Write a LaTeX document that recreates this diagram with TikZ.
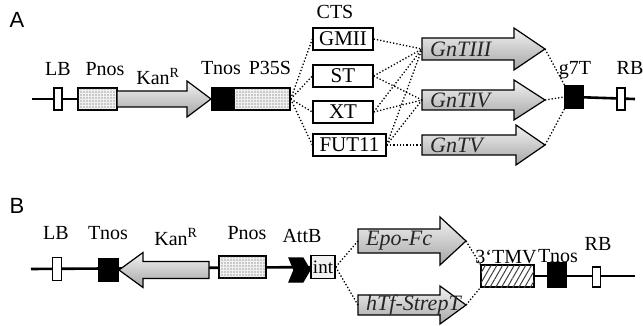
\documentclass[tikz,border=0pt]{standalone}
\usepackage{fontspec}
\setmainfont{Liberation Serif}
\newfontfamily\panelfont{Liberation Sans}
\usetikzlibrary{patterns.meta,backgrounds}
\tikzset{
  part/.style={
    draw,
    line width=1.3pt,
    fill=white,
    inner sep=0pt
  },
  element/.style={
    part,
    minimum width=60pt,
    minimum height=22pt,
    font=\fontsize{21}{23}\selectfont
  },
  blackbox/.style={
    part,
    fill=black
  },
  dotbox/.style={
    part,
    fill=gray!12,
    postaction={pattern={Dots[distance=3pt, radius=0.6pt]}, pattern color=black!70}
  },
  hatchbox/.style={
    part,
    postaction={pattern={Lines[angle=60, distance=5pt, line width=1pt]}, pattern color=black!75}
  },
  sitelabel/.style={
    anchor=base,
    inner sep=0pt,
    font=\fontsize{20}{22}\selectfont
  },
  genelabel/.style={
    anchor=west,
    inner sep=0pt,
    font=\fontsize{22}{24}\selectfont\itshape,
    text=black!85
  },
  genebody/.style={
    draw,
    line width=1.2pt,
    top color=gray!10,
    bottom color=gray!70
  },
  backbone/.style={
    line width=2.6pt
  },
  link/.style={
    dotted,
    line width=1.3pt
  },
  panelmark/.style={
    anchor=base,
    inner sep=0pt,
    font=\panelfont\fontsize{22}{24}\selectfont
  }
}
% name, tail, head base, tip, y, body half, head half, label
\newcommand{\genearrow}[8]{%
  \path[genebody] (#2,#5-#6) -- (#3,#5-#6) -- (#3,#5-#7) -- (#4,#5)
    -- (#3,#5+#7) -- (#3,#5+#6) -- (#2,#5+#6) -- cycle;
  \coordinate (#1-w) at (#2,#5);
  \coordinate (#1-tip) at (#4,#5);
  \node[genelabel] (#1) at (#2+8,#5) {#8};
}

\begin{document}
\begin{tikzpicture}[x=1pt,y=-1pt]
\useasboundingbox (0,0) rectangle (643,326);

%% panel A
\node[panelmark] (labA) at (17,28) {A};

\coordinate (startA) at (32,99);
\coordinate (endA) at (635,99);

\node[part, minimum width=8pt, minimum height=22pt] (lbA) at (58,99) {};
\node[dotbox, minimum width=39pt, minimum height=22pt] (pnosA) at (97.5,99) {};
\node[blackbox, minimum width=20pt, minimum height=22pt] (tnosA) at (222,99) {};
\node[dotbox, minimum width=56pt, minimum height=22pt] (p35sA) at (262,99) {};
\genearrow{kanA}{117}{187}{211}{99}{8}{18}{}

\node[sitelabel] at (58,76) {LB};
\node[sitelabel] at (105,76) {Pnos};
\node[sitelabel] at (158,85) {Kan\textsuperscript{R}};
\node[sitelabel] at (221,75) {Tnos};
\node[sitelabel] at (270,75) {P35S};
\node[sitelabel] at (335,19) {CTS};

\node[element] (gmii) at (343,39) {GMII};
\node[element] (st) at (343,76) {ST};
\node[element] (xt) at (343,112) {XT};
\node[element, minimum width=73pt] (fut) at (349.5,145) {FUT11};

\genearrow{gn3}{422}{514}{545}{49}{11}{21}{GnTIII}
\genearrow{gn4}{422}{514}{545}{100}{10}{20}{GnTIV}
\genearrow{gn5}{422}{516}{545}{145}{10}{20}{GnTV}

\node[blackbox, minimum width=18pt, minimum height=23pt] (g7t) at (574,97) {};
\node[part, minimum width=8pt, minimum height=22pt] (rbA) at (621,99) {};
\node[sitelabel] at (575,75) {g7T};
\node[sitelabel] at (630,75) {RB};

\begin{scope}[on background layer]
\draw[backbone] (startA) -- (p35sA.center);
\draw[backbone] (g7t.center) -- (endA);
\end{scope}

\foreach \cts in {gmii,st,xt,fut}
  \draw[link] (p35sA.east) -- (\cts.west);
\foreach \cts/\gene in {gmii/gn3,st/gn3,st/gn4,xt/gn3,xt/gn4,fut/gn3,fut/gn4,fut/gn5}
  \draw[link] (\cts.east) -- (\gene-w);
\draw[link] (gn3-tip) -- (g7t.north west);
\draw[link] (gn4-tip) -- (g7t.west);
\draw[link] (gn5-tip) -- (g7t.south west);

%% panel B
\node[panelmark] (labB) at (17,213) {B};

\coordinate (startB) at (31,269);
\coordinate (endB) at (635,276);

\node[part, minimum width=9pt, minimum height=23pt] (lbB) at (57,269) {};
\node[blackbox, minimum width=19pt, minimum height=23pt] (tnosB) at (108.5,270) {};
\genearrow{kanB}{209}{143}{119}{270}{8.5}{17.5}{}
\node[dotbox, minimum width=47pt, minimum height=22pt] (pnosB) at (242.5,267) {};
\path[draw, line width=1.2pt, fill=black] (289,258) -- (303,258) -- (310,270)
  -- (303,282) -- (289,282) -- (294,270) -- cycle;
\node[part, fill=gray!10, minimum width=24pt, minimum height=23pt,
  font=\fontsize{19}{21}\selectfont] (int) at (323,267) {int};

\node[sitelabel] at (56,240) {LB};
\node[sitelabel] at (108,240) {Tnos};
\node[sitelabel] at (176,245) {Kan\textsuperscript{R}};
\node[sitelabel] at (247,240) {Pnos};
\node[sitelabel] at (302,243) {AttB};

\genearrow{epo}{358}{440}{466}{241}{12}{24}{Epo-Fc}
\genearrow{htf}{358}{440}{466}{305}{10}{19}{hTf-StrepT}

\node[hatchbox, minimum width=53pt, minimum height=22pt] (tmv) at (507.5,276) {};
\node[blackbox, minimum width=18pt, minimum height=24pt] (tnosC) at (557,275) {};
\node[part, minimum width=8pt, minimum height=20pt] (rbB) at (596.5,277) {};
\node[sitelabel] at (506,263) {3`TMV};
\node[sitelabel] at (558,262) {Tnos};
\node[sitelabel] at (598,250) {RB};

\begin{scope}[on background layer]
\draw[backbone] (startB) -- (int.center);
\draw[backbone] (tmv.center) -- (endB);
\end{scope}

\draw[link] (int.east) -- (epo-w);
\draw[link] (int.east) -- (htf-w);
\draw[link] (epo-tip) -- (tmv.north west);
\draw[link] (htf-tip) -- (tmv.south west);

\end{tikzpicture}
\end{document}
